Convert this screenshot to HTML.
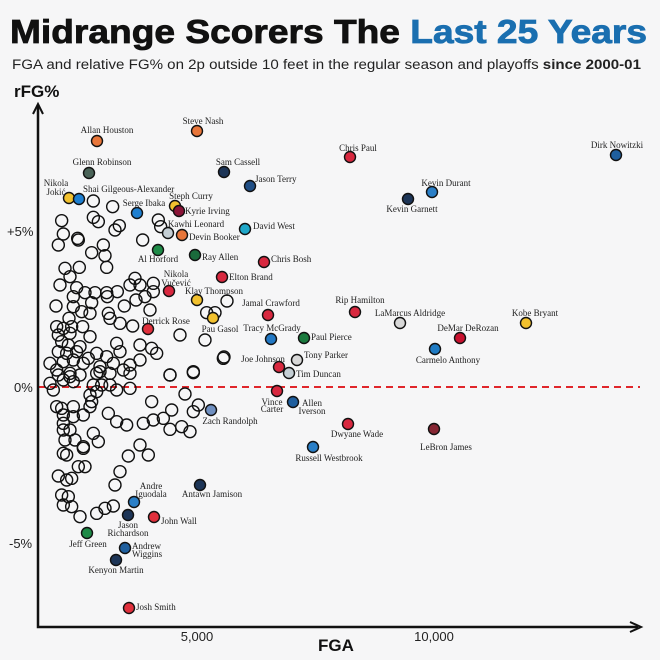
<!DOCTYPE html>
<html><head><meta charset="utf-8"><style>
html,body{margin:0;padding:0;background:#f6f6f7}
svg{display:block}
.l{font-family:"Liberation Serif",serif;font-size:9px;fill:#222}
</style></head><body>
<svg id="s" width="660" height="660" viewBox="0 0 660 660" xmlns="http://www.w3.org/2000/svg">
<rect width="660" height="660" fill="#f6f6f7"/>
<text x="10" y="43" font-family="Liberation Sans,sans-serif" font-weight="bold" font-size="33" fill="#111" stroke="#111" stroke-width="0.8" textLength="637" lengthAdjust="spacingAndGlyphs">Midrange Scorers The <tspan fill="#1a6fb0" stroke="#1a6fb0">Last 25 Years</tspan></text>
<text x="12" y="69" font-family="Liberation Sans,sans-serif" font-size="13.5" fill="#222" textLength="629" lengthAdjust="spacingAndGlyphs">FGA and relative FG% on 2p outside 10 feet in the regular season and playoffs <tspan font-weight="bold">since 2000-01</tspan></text>
<text x="14" y="97" font-family="Liberation Sans,sans-serif" font-weight="bold" font-size="17" fill="#111">rFG%</text>
<text x="318" y="651" font-family="Liberation Sans,sans-serif" font-weight="bold" font-size="17" fill="#111">FGA</text>
<g font-family="Liberation Sans,sans-serif" font-size="13" fill="#222">
<text x="7" y="236">+5%</text><text x="14" y="392">0%</text><text x="9" y="548">-5%</text>
<text x="197" y="641" text-anchor="middle">5,000</text><text x="434" y="641" text-anchor="middle">10,000</text>
</g>
<line x1="38" y1="387" x2="640" y2="387" stroke="#e0262b" stroke-width="2" stroke-dasharray="7,5"/>
<g id="h" fill="none" stroke="#111" stroke-width="1.4"></g>
<g id="c" stroke="#111" stroke-width="1.4"></g>
<g id="t"></g>
<path d="M38,106 V627 H638" fill="none" stroke="#111" stroke-width="2.5"/>
<path d="M33,114 L38,104 L43,114" fill="none" stroke="#111" stroke-width="2"/>
<path d="M630,622 L641,627 L630,632" fill="none" stroke="#111" stroke-width="2"/>
</svg>
<script>
var NS="http://www.w3.org/2000/svg";
function el(p,n,a,txt){var e=document.createElementNS(NS,n);for(var k in a)e.setAttribute(k,a[k]);if(txt)e.textContent=txt;p.appendChild(e);return e;}
var z2=[[190,123],[248,140],[95,182],[190,172],[205,185],[255,210],[268,197],[385,180],[392,200],[100,222],[143,235],[145,240],[85,255],[220,255],[185,278],[225,287],[230,322],[105,325],[148,322],[120,350],[90,375],[140,383],[165,398],[195,398],[230,398],[262,395],[232,410],[300,375],[315,355],[330,375],[370,370],[345,410],[370,395],[318,420],[283,438],[130,410],[78,438],[130,440],[155,455],[185,428],[180,460],[235,460],[240,475],[360,450],[117,475],[80,500],[100,505],[125,500],[158,500],[120,520],[85,525],[270,490],[308,498],[450,525],[525,540],[530,458],[555,458],[180,530],[115,555],[150,560],[110,580],[200,580],[260,550],[230,590],[270,575],[330,555],[365,565],[380,580],[580,595],[100,605],[130,600],[160,610],[210,620],[250,610],[300,615],[490,635],[420,645],[80,630],[120,640],[95,545],[140,575],[175,595],[85,575],[200,640],[240,640],[280,630],[60,610],[330,600],[338,240]];
var z3=[[85,15],[120,20],[150,15],[210,5],[300,10],[420,15],[490,8],[100,30],[190,45],[215,45],[240,45],[260,60],[300,55],[180,75],[200,65],[465,72],[185,95],[80,110],[95,115],[130,110],[180,110],[160,135],[130,140],[100,135],[235,130],[260,155],[290,165],[340,160],[370,150],[400,145],[425,120],[420,178],[455,170],[480,185],[490,125],[505,105],[365,95],[100,160],[100,180],[120,180],[190,190],[205,215],[105,210],[135,210],[160,230],[160,235],[330,225],[295,258],[355,255],[100,250],[110,255],[145,290],[165,290],[85,318],[110,330],[125,325],[270,305],[255,345],[95,375],[115,380],[100,405],[125,410],[150,440],[200,430],[225,415],[250,408],[60,40],[130,35],[70,60]];
var h=document.getElementById('h');
z2.forEach(function(p){el(h,'circle',{cx:30+p[0]/3,cy:160+p[1]/3,r:6});});
z3.forEach(function(p){el(h,'circle',{cx:30+p[0]/3,cy:370+p[1]/3,r:6});});
[[224,357],[227,301]].forEach(function(p){el(h,'circle',{cx:p[0],cy:p[1],r:6});});
var C=[
[97,141,'#e8763a',[['Allan Houston',107,133,'middle']]],
[197,131,'#e8763a',[['Steve Nash',203,124,'middle']]],
[89,173,'#4a6358',[['Glenn Robinson',102,165,'middle']]],
[69,198,'#f2c12e',[['Nikola',56,186,'middle'],['Jokić',56,195,'middle']]],
[79,199,'#1e7fd0',[['Shai Gilgeous-Alexander',83,192,'start']]],
[224,172,'#1d3557',[['Sam Cassell',238,165,'middle']]],
[250,186,'#1f4e85',[['Jason Terry',255,182,'start']]],
[350,157,'#d8283f',[['Chris Paul',358,151,'middle']]],
[616,155,'#1f5f9e',[['Dirk Nowitzki',617,148,'middle']]],
[432,192,'#2a7fc7',[['Kevin Durant',446,186,'middle']]],
[408,199,'#1d3557',[['Kevin Garnett',412,212,'middle']]],
[137,213,'#1e7fd0',[['Serge Ibaka',144,206,'middle']]],
[175,206,'#f2c12e',[['Steph Curry',191,199,'middle']]],
[179,211,'#8a1538',[['Kyrie Irving',185,214,'start']]],
[168,233,'#c4ced4',[['Kawhi Leonard',196,227,'middle']]],
[182,235,'#e8763a',[['Devin Booker',189,240,'start']]],
[245,229,'#1fa7c9',[['David West',253,229,'start']]],
[158,250,'#1e8a47',[['Al Horford',158,262,'middle']]],
[195,255,'#1a6b3c',[['Ray Allen',202,260,'start']]],
[264,262,'#d8283f',[['Chris Bosh',271,262,'start']]],
[222,277,'#d8283f',[['Elton Brand',229,280,'start']]],
[169,291,'#d8283f',[['Nikola',176,277,'middle'],['Vučević',176,286,'middle']]],
[197,300,'#f2c12e',[['Klay Thompson',214,294,'middle']]],
[268,315,'#d8283f',[['Jamal Crawford',271,306,'middle']]],
[355,312,'#d8283f',[['Rip Hamilton',360,303,'middle']]],
[400,323,'#d8d8d8',[['LaMarcus Aldridge',410,316,'middle']]],
[526,323,'#f2c12e',[['Kobe Bryant',535,316,'middle']]],
[460,338,'#c8102e',[['DeMar DeRozan',468,331,'middle']]],
[213,318,'#f2c12e',[['Pau Gasol',220,332,'middle']]],
[148,329,'#e0303c',[['Derrick Rose',166,324,'middle']]],
[271,339,'#2278c4',[['Tracy McGrady',272,331,'middle']]],
[304,338,'#1b7a3e',[['Paul Pierce',311,340,'start']]],
[435,349,'#1f7bc4',[['Carmelo Anthony',448,363,'middle']]],
[297,360,'#d8d8d8',[['Tony Parker',326,358,'middle']]],
[279,367,'#d8283f',[['Joe Johnson',263,362,'middle']]],
[289,373,'#c4ced4',[['Tim Duncan',296,377,'start']]],
[277,391,'#d8283f',[['Vince',272,405,'middle'],['Carter',272,412,'middle']]],
[293,402,'#1f5f9e',[['Allen',312,406,'middle'],['Iverson',312,414,'middle']]],
[211,410,'#6f8fc0',[['Zach Randolph',230,424,'middle']]],
[348,424,'#d8283f',[['Dwyane Wade',357,437,'middle']]],
[434,429,'#862633',[['LeBron James',446,450,'middle']]],
[313,447,'#2a7fc7',[['Russell Westbrook',329,461,'middle']]],
[200,485,'#1d3557',[['Antawn Jamison',212,497,'middle']]],
[134,502,'#2a7fc7',[['Andre',151,489,'middle'],['Iguodala',151,497,'middle']]],
[128,515,'#1d3557',[['Jason',128,528,'middle'],['Richardson',128,536,'middle']]],
[154,517,'#e0303c',[['John Wall',161,524,'start']]],
[87,533,'#1e8a47',[['Jeff Green',88,547,'middle']]],
[125,548,'#1f5f9e',[['Andrew',132,549,'start'],['Wiggins',132,557,'start']]],
[116,560,'#1d3557',[['Kenyon Martin',116,573,'middle']]],
[129,608,'#e0303c',[['Josh Smith',136,610,'start']]]];
var c=document.getElementById('c'),t=document.getElementById('t');
C.forEach(function(d){el(c,'circle',{cx:d[0],cy:d[1],r:5.5,fill:d[2]});d[3].forEach(function(L){el(t,'text',{x:L[1],y:L[2],'text-anchor':L[3],'class':'l'},L[0]);});});
</script>
</body></html>
